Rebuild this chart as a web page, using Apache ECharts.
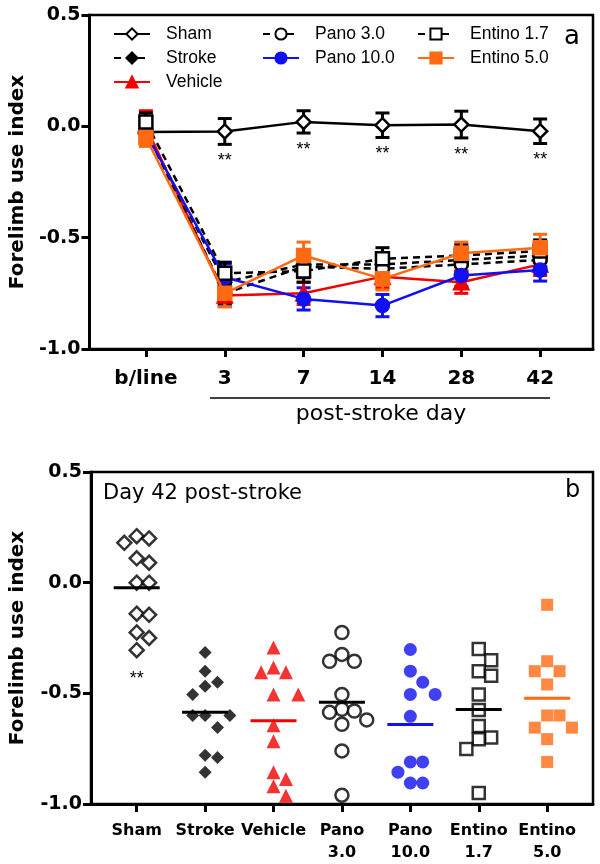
<!DOCTYPE html>
<html>
<head>
<meta charset="utf-8">
<script src="https://cdn.jsdelivr.net/npm/echarts@6/dist/echarts.min.js"></script>
<style>
  html, body { margin: 0; background: #fff; }
  #main { width: 600px; height: 864px; }
</style>
</head>
<body>
<div id="main"></div>
<script>
// panel a: time course (mean +/- sem)
const days = ['b/line', '3', '7', '14', '28', '42']
const groups = ['Sham', 'Stroke', 'Vehicle', 'Pano 3.0', 'Pano 10.0', 'Entino 1.7', 'Entino 5.0']

const shamMean = [-0.025, -0.023, 0.02, 0.005, 0.008, -0.022]
const shamSem = [0.03, 0.058, 0.05, 0.055, 0.06, 0.055]
const strokeMean = [-0.02, -0.7, -0.62, -0.62, -0.6, -0.58]
const strokeSem = [0.04, 0.05, 0.05, 0.04, 0.05, 0.05]
const vehicleMean = [0.0, -0.76, -0.75, -0.675, -0.7, -0.62]
const vehicleSem = [0.07, 0.05, 0.05, 0.05, 0.05, 0.05]
const pano3Mean = [-0.02, -0.75, -0.63, -0.64, -0.62, -0.6]
const pano3Sem = [0.04, 0.05, 0.05, 0.05, 0.05, 0.05]
const pano10Mean = [-0.03, -0.678, -0.775, -0.805, -0.67, -0.645]
const pano10Sem = [0.04, 0.06, 0.05, 0.05, 0.05, 0.05]
const entino17Mean = [0.02, -0.66, -0.65, -0.595, -0.58, -0.56]
const entino17Sem = [0.04, 0.05, 0.05, 0.05, 0.05, 0.05]
const entino5Mean = [-0.05, -0.75, -0.58, -0.685, -0.57, -0.545]
const entino5Sem = [0.04, 0.06, 0.06, 0.05, 0.05, 0.06]

// panel b: day 42 individual animals
const bLabels = ['Sham', 'Stroke', 'Vehicle', 'Pano\n3.0', 'Pano\n10.0', 'Entino\n1.7', 'Entino\n5.0']
const shamDay42 = [0.21, 0.20, 0.18, 0.11, 0.09, 0.0, 0.0, -0.14, -0.145, -0.225, -0.25, -0.305]
const strokeDay42 = [-0.316, -0.40, -0.45, -0.468, -0.505, -0.60, -0.60, -0.60, -0.654, -0.78, -0.79, -0.857]
const vehicleDay42 = [-0.293, -0.383, -0.405, -0.405, -0.505, -0.505, -0.644, -0.716, -0.856, -0.887, -0.92, -0.963]
const pano3Day42 = [-0.225, -0.324, -0.355, -0.355, -0.505, -0.572, -0.586, -0.58, -0.62, -0.64, -0.76, -0.96]
const pano10Day42 = [-0.302, -0.40, -0.45, -0.505, -0.505, -0.604, -0.81, -0.81, -0.856, -0.905, -0.905]
const entino17Day42 = [-0.30, -0.35, -0.40, -0.42, -0.505, -0.575, -0.648, -0.70, -0.707, -0.752, -0.95]
const entino5Day42 = [-0.10, -0.355, -0.40, -0.40, -0.46, -0.60, -0.60, -0.655, -0.655, -0.707, -0.81]

const ORANGE = '#ff6a13'
const BLUE = '#1010f0'
const RED = '#f20000'

// look of each group
const looks = [
  {symbol: 'diamond', fill: '#fff', color: '#000', dash: 'solid', size: 14},
  {symbol: 'diamond', fill: '#000', color: '#000', dash: [7, 5], size: 13},
  {symbol: 'triangle', fill: RED, color: RED, dash: 'solid', size: 14},
  {symbol: 'circle', fill: '#fff', color: '#000', dash: [7, 5], size: 13},
  {symbol: 'circle', fill: BLUE, color: BLUE, dash: 'solid', size: 13},
  {symbol: 'rect', fill: '#fff', color: '#000', dash: [7, 5], size: 13},
  {symbol: 'rect', fill: ORANGE, color: ORANGE, dash: 'solid', size: 13}
]
const means = [shamMean, strokeMean, vehicleMean, pano3Mean, pano10Mean, entino17Mean, entino5Mean]
const sems = [shamSem, strokeSem, vehicleSem, pano3Sem, pano10Sem, entino17Sem, entino5Sem]
const day42 = [shamDay42, strokeDay42, vehicleDay42, pano3Day42, pano10Day42, entino17Day42, entino5Day42]
const starred = [true, false, false, false, false, false, false]

// simple beeswarm so the dots of one group do not sit on each other
function swarm(values, gx) {
  const pxX = 69, pxY = 222, d = 12.5
  const placed = []
  const sorted = values.slice().sort((a, b) => b - a)
  sorted.forEach(v => {
    let k = 0
    for (let step = 0; step < 20; step++) {
      k = step === 0 ? 0 : (step % 2 ? 1 : -1) * Math.ceil(step / 2)
      const ok = placed.every(p => {
        const dx = (k * d / pxX + gx - p[0]) * pxX
        const dy = (v - p[1]) * pxY
        return Math.sqrt(dx * dx + dy * dy) >= d
      })
      if (ok) break
    }
    placed.push([gx + k * d / pxX, v])
  })
  return placed
}

const font = '"Liberation Sans", Arial, sans-serif'
const wide = '"DejaVu Sans", sans-serif'

function errorBars(params, api) {
  const x = api.value(0)
  const top = api.coord([x, api.value(2)])
  const bot = api.coord([x, api.value(1)])
  const color = api.visual('color')
  const style = {stroke: color, lineWidth: 3}
  const children = [
    {type: 'line', shape: {x1: top[0], y1: top[1], x2: bot[0], y2: bot[1]}, style},
    {type: 'line', shape: {x1: top[0] - 7, y1: top[1], x2: top[0] + 7, y2: top[1]}, style},
    {type: 'line', shape: {x1: bot[0] - 7, y1: bot[1], x2: bot[0] + 7, y2: bot[1]}, style}
  ]
  if (api.value(3) && x > 0) {
    children.push({type: 'text', x: bot[0], y: bot[1] + 8,
      style: {text: '**', fill: '#000', font: '18px ' + font, align: 'center', verticalAlign: 'top'}})
  }
  return {type: 'group', children}
}

function meanLine(params, api) {
  const p = api.coord([api.value(0), api.value(1)])
  const children = [{type: 'line', shape: {x1: p[0] - 23, y1: p[1], x2: p[0] + 23, y2: p[1]},
    style: {stroke: api.visual('color'), lineWidth: 3}}]
  if (api.value(3)) {
    const low = api.coord([api.value(0), api.value(2)])
    children.push({type: 'text', x: p[0], y: low[1] + 20,
      style: {text: '**', fill: '#000', font: '18px ' + font, align: 'center', verticalAlign: 'top'}})
  }
  return {type: 'group', children}
}

const series = []
groups.forEach((g, gi) => {
  const lk = looks[gi]
  series.push({
    type: 'custom', name: g + ' sem', xAxisIndex: 0, yAxisIndex: 0, z: 2,
    itemStyle: {color: lk.color},
    renderItem: errorBars,
    data: days.map((d, i) => [i, means[gi][i] - sems[gi][i], means[gi][i] + sems[gi][i], starred[gi] ? 1 : 0])
  })
  series.push({
    type: 'line', name: g, xAxisIndex: 0, yAxisIndex: 0, z: 3 + gi,
    symbol: lk.symbol, symbolSize: lk.size,
    lineStyle: {color: lk.color, width: 2.5, type: lk.dash},
    itemStyle: {color: lk.fill, borderColor: lk.color, borderWidth: 2.5},
    data: days.map((d, i) => [i, means[gi][i]])
  })
  const vals = day42[gi]
  series.push({
    type: 'scatter', name: g + ' d42', xAxisIndex: 1, yAxisIndex: 1, z: 3,
    symbol: lk.symbol, symbolSize: lk.symbol === 'rect' ? 12 : lk.size,
    itemStyle: {color: lk.fill, borderColor: lk.color, borderWidth: lk.fill === '#fff' ? 2.5 : 0},
    data: swarm(vals, gi)
  })
  const mean = vals.reduce((a, b) => a + b, 0) / vals.length
  series.push({
    type: 'custom', name: g + ' mean', xAxisIndex: 1, yAxisIndex: 1, z: 4,
    itemStyle: {color: lk.color},
    renderItem: meanLine,
    data: [[gi, mean, Math.min.apply(null, vals), starred[gi] ? 1 : 0]]
  })
})

function legendCol(names, left) {
  return {
    data: names, left, top: 20, orient: 'vertical', itemGap: 6, itemWidth: 36, itemHeight: 14,
    textStyle: {fontFamily: font, fontSize: 17.5, color: '#000', padding: [0, 0, 0, 11]}, selectedMode: false
  }
}

const yAx = (gi, gap) => ({
  gridIndex: gi, type: 'value', min: -1, max: 0.5, interval: 0.5,
  name: 'Forelimb use index', nameLocation: 'middle', nameRotate: 90, nameGap: gap,
  nameTextStyle: {fontFamily: wide, fontSize: 20, fontWeight: 'bold', color: '#000'},
  axisLine: {show: true, onZero: false, lineStyle: {color: '#000', width: 3}},
  axisTick: {show: true, length: 8, lineStyle: {color: '#000', width: 3}},
  axisLabel: {formatter: v => v.toFixed(1), fontFamily: wide, fontSize: 19, fontWeight: 'bold', color: '#000', margin: 9},
  splitLine: {show: false}
})

const myChart = echarts.init(document.getElementById('main'))
myChart.setOption({
  animation: false,
  backgroundColor: '#fff',
  grid: [
    {left: 85, top: 15, right: 7, height: 334, show: true, borderColor: '#000', borderWidth: 2.5},
    {left: 88, top: 472, right: 7, height: 334, show: true, borderColor: '#000', borderWidth: 2.5}
  ],
  legend: [
    legendCol(['Sham', 'Stroke', 'Vehicle'], 108),
    legendCol(['Pano 3.0', 'Pano 10.0'], 257),
    legendCol(['Entino 1.7', 'Entino 5.0'], 412)
  ],
  xAxis: [
    {
      gridIndex: 0, type: 'value', min: -0.716, max: 5.67,
      axisLine: {show: true, onZero: false, lineStyle: {color: '#000', width: 3}},
      axisTick: {show: true, customValues: days.map((d, i) => i), length: 8, lineStyle: {color: '#000', width: 3}},
      axisLabel: {customValues: days.map((d, i) => i), formatter: v => days[v],
        fontFamily: wide, fontSize: 20, fontWeight: 'bold', color: '#000', margin: 20},
      splitLine: {show: false}
    },
    {
      gridIndex: 1, type: 'value', min: -0.668, max: 6.67,
      axisLine: {show: true, onZero: false, lineStyle: {color: '#000', width: 3}},
      axisTick: {show: true, customValues: bLabels.map((d, i) => i), length: 8, lineStyle: {color: '#000', width: 3}},
      axisLabel: {customValues: bLabels.map((d, i) => i), formatter: v => bLabels[v],
        fontFamily: wide, fontSize: 16, fontWeight: 'bold', color: '#000', margin: 16, lineHeight: 22},
      splitLine: {show: false}
    }
  ],
  yAxis: [yAx(0, 60), yAx(1, 63)],
  graphic: [
    {type: 'text', left: 564, top: 24, style: {text: 'a', font: '26px ' + wide, fill: '#000'}},
    {type: 'text', left: 565, top: 479, style: {text: 'b', font: '24px ' + wide, fill: '#000'}},
    {type: 'text', left: 103, top: 483, style: {text: 'Day 42 post-stroke', font: '21px ' + wide, fill: '#000'}},
    {type: 'line', shape: {x1: 210, y1: 398, x2: 550, y2: 398}, style: {stroke: '#000', lineWidth: 1.5}},
    {type: 'text', x: 381, y: 403, style: {text: 'post-stroke day', font: '22px ' + wide, fill: '#000', align: 'center'}}
  ],
  series
})
</script>
</body>
</html>
